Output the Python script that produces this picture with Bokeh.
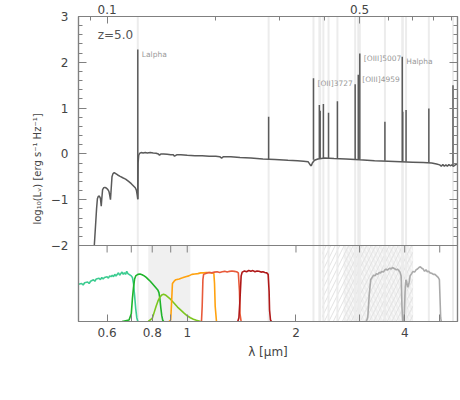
from bokeh.plotting import figure
from bokeh.models import (Range1d, LinearAxis, FixedTicker, LogScale, BoxAnnotation,
                          Span, Label, Title)
from bokeh.embed import file_html
from bokeh.resources import INLINE
from bokeh.core.properties import value

FONT = "DejaVu Sans"
redshift = 5.0
x_lo, x_hi = 0.5, 5.6
y_top, y_mid = 3.0, -2.0          # log L range of the spectrum panel
y_bot = -3.659                    # extends the frame down for the filter panel
filt_top = 4.013                  # filter-panel range so that 0..1 fills the lower strip

# ---------------- spectrum (observed micron, log10 L_nu) ----------------
cont_wave = [0.553, 0.557, 0.561, 0.564, 0.567, 0.571, 0.575, 0.578, 0.580,
             0.583, 0.587, 0.592, 0.598, 0.603, 0.607, 0.610, 0.613, 0.616, 0.619,
             0.623, 0.628, 0.634, 0.642, 0.652, 0.663, 0.675, 0.688, 0.700, 0.710,
             0.718, 0.723, 0.727, 0.7295, 0.731, 0.734, 0.738, 0.745, 0.755, 0.765,
             0.775, 0.790, 0.805, 0.820, 0.832, 0.838, 0.845, 0.860, 0.880, 0.900,
             0.915, 0.922, 0.935, 0.960, 1.000, 1.05, 1.10, 1.15, 1.20, 1.23,
             1.245, 1.26, 1.32, 1.40, 1.50, 1.62, 1.75, 1.90, 2.02, 2.10,
             2.16, 2.19, 2.205, 2.22, 2.25, 2.30, 2.40, 2.55, 2.75, 3.00,
             3.30, 3.60, 3.90, 4.20, 4.50, 4.75, 4.90, 5.00, 5.05, 5.10,
             5.15, 5.20, 5.25, 5.30, 5.35, 5.40, 5.45, 5.50, 5.55, 5.60]
cont_logL = [-2.0, -1.6, -1.2, -0.98, -0.93, -0.92, -0.97, -1.14, -0.98,
             -0.78, -0.74, -0.73, -0.75, -0.78, -0.82, -0.90, -1.00, -0.75, -0.50,
             -0.43, -0.41, -0.43, -0.46, -0.49, -0.52, -0.55, -0.60, -0.65, -0.70,
             -0.74, -0.79, -0.90, -0.99, -0.20, -0.03, 0.01, 0.03, 0.02, 0.03,
             0.02, 0.03, 0.02, 0.015, 0.0, -0.03, 0.0, 0.0, -0.01, -0.02,
             -0.02, -0.05, -0.02, -0.02, -0.03, -0.04, -0.04, -0.05, -0.05, -0.06,
             -0.09, -0.06, -0.06, -0.08, -0.09, -0.11, -0.12, -0.14, -0.15, -0.16,
             -0.17, -0.24, -0.26, -0.20, -0.14, -0.11, -0.09, -0.10, -0.11, -0.13,
             -0.15, -0.16, -0.17, -0.18, -0.19, -0.20, -0.22, -0.24, -0.27, -0.23,
             -0.27, -0.24, -0.27, -0.23, -0.26, -0.24, -0.27, -0.25, -0.22, -0.24]

# emission lines (rest micron), peak and base in log10 L_nu
line_rest = [0.1216, 0.2800, 0.3727, 0.3869, 0.3889, 0.3970, 0.4102, 0.4341, 0.4861,
             0.4959, 0.5007, 0.5876, 0.6563, 0.6584, 0.6724, 0.7775, 0.9069]
line_peak = [2.28, 0.81, 1.65, 1.07, 0.94, 1.09, 0.90, 1.15, 1.52,
             1.73, 2.19, 0.70, 2.12, 0.92, 0.96, 0.99, 1.50]
line_base = [-0.99, -0.12, -0.13, -0.10, -0.10, -0.10, -0.10, -0.10, -0.12,
             -0.13, -0.13, -0.15, -0.17, -0.17, -0.17, -0.19, -0.24]

label_names = ["Lalpha", "[OII]3727", "[OIII]4959", "[OIII]5007", "Halpha"]
label_rest = [0.1216, 0.3727, 0.4959, 0.5007, 0.6563]
label_peak = [2.28, 1.65, 1.73, 2.19, 2.12]

# ---------------- filter curves (observed micron, transmission) ----------------
teal_w = [0.44, 0.46, 0.48, 0.49, 0.50, 0.51, 0.515, 0.52, 0.53, 0.535, 0.54, 0.55,
          0.555, 0.56, 0.57, 0.575, 0.58, 0.585, 0.59, 0.60, 0.605, 0.61, 0.615, 0.62,
          0.625, 0.63, 0.635, 0.64, 0.645, 0.65, 0.655, 0.66, 0.665, 0.67, 0.675, 0.68,
          0.685, 0.69, 0.695, 0.70, 0.705, 0.71, 0.715, 0.72, 0.725, 0.73]
teal_t = [0.43, 0.45, 0.47, 0.46, 0.49, 0.50, 0.48, 0.51, 0.52, 0.50, 0.53, 0.55,
          0.53, 0.56, 0.57, 0.55, 0.58, 0.56, 0.58, 0.59, 0.57, 0.60, 0.59, 0.61,
          0.59, 0.62, 0.60, 0.62, 0.64, 0.61, 0.63, 0.65, 0.62, 0.64, 0.62, 0.66,
          0.63, 0.62, 0.61, 0.60, 0.58, 0.50, 0.34, 0.17, 0.05, 0.0]

green_w = [0.66, 0.69, 0.70, 0.705, 0.71, 0.715, 0.72, 0.73, 0.74, 0.75, 0.76, 0.77,
           0.78, 0.79, 0.80, 0.81, 0.82, 0.83, 0.835, 0.84, 0.845, 0.85, 0.855, 0.86]
green_t = [0.0, 0.02, 0.10, 0.30, 0.45, 0.56, 0.60, 0.62, 0.625, 0.615, 0.60, 0.58,
           0.555, 0.53, 0.50, 0.47, 0.44, 0.41, 0.38, 0.30, 0.18, 0.08, 0.02, 0.0]

lime_w = [0.78, 0.80, 0.81, 0.82, 0.83, 0.84, 0.85, 0.86, 0.87, 0.88, 0.89, 0.90,
          0.92, 0.94, 0.96, 0.98, 1.00, 1.02, 1.04, 1.06, 1.09]
lime_t = [0.0, 0.04, 0.12, 0.20, 0.27, 0.32, 0.35, 0.36, 0.35, 0.33, 0.31, 0.29,
          0.24, 0.19, 0.15, 0.11, 0.075, 0.05, 0.03, 0.015, 0.0]

orange_w = [0.89, 0.90, 0.905, 0.91, 0.92, 0.93, 0.95, 0.97, 0.99, 1.01, 1.03, 1.05,
            1.07, 1.09, 1.11, 1.13, 1.15, 1.17, 1.185, 1.19, 1.195, 1.205]
orange_t = [0.0, 0.02, 0.25, 0.50, 0.53, 0.55, 0.56, 0.575, 0.59, 0.60, 0.62, 0.625,
            0.63, 0.64, 0.64, 0.645, 0.645, 0.64, 0.63, 0.50, 0.20, 0.0]

red_w = [1.095, 1.10, 1.105, 1.11, 1.13, 1.15, 1.17, 1.19, 1.21, 1.23, 1.25, 1.27,
         1.29, 1.31, 1.33, 1.35, 1.37, 1.385, 1.395, 1.40, 1.41]
red_t = [0.0, 0.20, 0.55, 0.62, 0.635, 0.645, 0.64, 0.65, 0.655, 0.645, 0.655, 0.66,
         0.65, 0.66, 0.665, 0.66, 0.655, 0.64, 0.40, 0.10, 0.0]

dred_w = [1.38, 1.39, 1.40, 1.41, 1.42, 1.44, 1.46, 1.48, 1.50, 1.52, 1.54, 1.56,
          1.58, 1.60, 1.62, 1.64, 1.66, 1.675, 1.685, 1.69, 1.70, 1.71]
dred_t = [0.0, 0.05, 0.30, 0.60, 0.65, 0.665, 0.655, 0.67, 0.66, 0.67, 0.655, 0.665,
          0.66, 0.65, 0.655, 0.645, 0.64, 0.62, 0.40, 0.15, 0.02, 0.0]

ch1_w = [3.13, 3.16, 3.19, 3.22, 3.25, 3.28, 3.31, 3.34, 3.37, 3.40, 3.43, 3.46,
         3.49, 3.52, 3.55, 3.58, 3.61, 3.64, 3.67, 3.70, 3.73, 3.76, 3.79, 3.82,
         3.85, 3.88, 3.91, 3.93, 3.95]
ch1_t = [0.0, 0.05, 0.35, 0.55, 0.58, 0.61, 0.60, 0.63, 0.62, 0.645, 0.64, 0.66,
         0.65, 0.675, 0.69, 0.675, 0.69, 0.70, 0.69, 0.71, 0.70, 0.69, 0.68, 0.69,
         0.67, 0.65, 0.60, 0.20, 0.0]

ch2_w = [3.96, 3.99, 4.01, 4.03, 4.05, 4.08, 4.11, 4.14, 4.18, 4.22, 4.26, 4.30,
         4.34, 4.38, 4.42, 4.46, 4.50, 4.54, 4.58, 4.62, 4.66, 4.70, 4.75, 4.80,
         4.85, 4.90, 4.95, 4.99, 5.01, 5.03, 5.05]
ch2_t = [0.0, 0.10, 0.40, 0.55, 0.52, 0.45, 0.50, 0.60, 0.63, 0.66, 0.65, 0.68,
         0.69, 0.71, 0.72, 0.70, 0.69, 0.66, 0.68, 0.655, 0.66, 0.64, 0.635, 0.62,
         0.62, 0.60, 0.58, 0.55, 0.30, 0.05, 0.0]

filters = [(teal_w, teal_t, "#3dcc91"), (green_w, green_t, "#1fb42a"),
           (lime_w, lime_t, "#7cc61e"), (orange_w, orange_t, "#ffa20f"),
           (red_w, red_t, "#e85a3a"), (dred_w, dred_t, "#b01818"),
           (ch1_w, ch1_t, "#aaaaaa"), (ch2_w, ch2_t, "#aaaaaa")]

# shaded / hatched regions in the filter panel (observed micron)
shade_band = (0.78, 1.02)
hatch_band_a = (2.36, 4.22)
hatch_band_b = (2.71, 4.22)

obs_ticks = [0.6, 0.7, 0.8, 0.9, 1, 2, 3, 4, 5]
obs_labels = {0.6: "0.6", 0.7: "", 0.8: "0.8", 0.9: "", 1: "1", 2: "2", 3: "", 4: "4", 5: ""}
rest_major = [0.1, 0.5]
rest_minor = [0.09, 0.2, 0.3, 0.4, 0.6, 0.7, 0.8, 0.9]
y_major = [-2, -1, 0, 1, 2, 3]
y_minor = [k / 5 for k in range(-10, 16) if k % 5]
y_labels = {-2: "\u22122", -1: "\u22121", 0: "0", 1: "1", 2: "2", 3: "3"}
ylabel_text = "log\u2081\u2080(L\u1d65) [erg s\u207b\u00b9 Hz\u207b\u00b9]"

AX = "#808080"
TXT = "#444444"

obs_line = [w * (1 + redshift) for w in line_rest]
obs_label = [w * (1 + redshift) for w in label_rest]


def style_axis(ax, tin=7, mtin=0):
    ax.axis_line_color = AX
    ax.axis_line_width = 1.2
    ax.major_tick_line_color = AX
    ax.minor_tick_line_color = AX
    ax.major_tick_in = tin
    ax.major_tick_out = 0
    ax.minor_tick_in = mtin
    ax.minor_tick_out = 0
    ax.major_label_text_font = FONT
    ax.major_label_text_font_size = "12px"
    ax.major_label_text_color = TXT
    ax.axis_label_text_font = FONT
    ax.axis_label_text_font_size = "12px"
    ax.axis_label_text_font_style = "normal"
    ax.axis_label_text_color = TXT


p = figure(frame_width=379, frame_height=305, x_axis_type="log",
           x_range=Range1d(x_lo, x_hi), y_range=Range1d(y_bot, y_top),
           x_axis_location=None, y_axis_location=None,
           output_backend="svg", toolbar_location=None,
           min_border_left=78, min_border_right=2, min_border_top=16, min_border_bottom=0)
p.grid.visible = False
p.outline_line_color = AX
p.outline_line_width = 1.2
p.background_fill_color = "white"
p.border_fill_color = "white"

p.extra_x_ranges = {"rest": Range1d(x_lo / (1 + redshift), x_hi / (1 + redshift))}
p.extra_x_scales = {"rest": LogScale()}
p.extra_y_ranges = {"filt": Range1d(0, filt_top)}

# axes
yl = LinearAxis(ticker=FixedTicker(ticks=y_major, minor_ticks=y_minor))
style_axis(yl, tin=8, mtin=4)
yl.major_label_standoff = 10
yl.major_label_overrides = y_labels
p.add_layout(yl, "left")

yr = LinearAxis(ticker=FixedTicker(ticks=y_major, minor_ticks=y_minor))
style_axis(yr, tin=8, mtin=4)
yr.major_label_overrides = {k: "" for k in y_major}
yr.major_label_standoff = 0
p.add_layout(yr, "right")

xt = LinearAxis(x_range_name="rest",
                ticker=FixedTicker(ticks=rest_major, minor_ticks=rest_minor))
style_axis(xt, tin=7, mtin=4)
xt.major_label_standoff = 3
xt.major_label_overrides = {0.1: "0.1", 0.5: "0.5"}
p.add_layout(xt, "above")

xb = LinearAxis(ticker=FixedTicker(ticks=obs_ticks), axis_label="\u03bb [\u03bcm]")
style_axis(xb, tin=7)
xb.major_label_overrides = obs_labels
xb.major_label_standoff = 6
xb.axis_label_standoff = 5
p.add_layout(xb, "below")

# y-axis title, shifted up so it is centred on the spectrum panel
ytitle = Title(text=ylabel_text, align="center", offset=44, standoff=10,
               text_font=FONT, text_font_size="10px", text_font_style="normal",
               text_color=TXT)
p.add_layout(ytitle, "left")

# filter-panel background regions
p.add_layout(BoxAnnotation(left=shade_band[0], right=shade_band[1], top=y_mid,
                           fill_color="#f0f0f0", fill_alpha=1, line_alpha=0, level="underlay"))
p.add_layout(BoxAnnotation(left=hatch_band_b[0], right=hatch_band_b[1], top=y_mid,
                           fill_color="#f0f0f0", fill_alpha=1, line_alpha=0,
                           hatch_pattern="\\", hatch_color="#fafafa", hatch_scale=9,
                           hatch_weight=1.2, level="underlay"))
p.add_layout(BoxAnnotation(left=hatch_band_a[0], right=hatch_band_a[1], top=y_mid,
                           fill_alpha=0, line_alpha=0, hatch_pattern="/",
                           hatch_color="#e2e2e2", hatch_scale=9, hatch_weight=1.0,
                           level="underlay"))

# line markers through both panels
for w in obs_line:
    p.add_layout(Span(location=w, dimension="height", line_color="#ececec",
                      line_width=2, level="underlay"))

# panel divider and its inward ticks
p.add_layout(Span(location=y_mid, dimension="width", line_color=AX, line_width=1.2))
p.ray(x=obs_ticks, y=[y_mid] * len(obs_ticks), length=7, length_units="screen",
      angle=-90, angle_units="deg", line_color=AX, line_width=1)

# spectrum
p.line(cont_wave, cont_logL, line_color="#5a5a5a", line_width=1.5)
p.segment(x0=obs_line, y0=line_base, x1=obs_line, y1=line_peak,
          line_color="#5a5a5a", line_width=1.5)
p.text(x=obs_label, y=label_peak, text=label_names, x_offset=4, y_offset=5,
       text_font=value(FONT), text_font_size=value("7.5px"), text_color="#999999",
       text_baseline="middle", text_align="left")

p.add_layout(Label(x=0.565, y=2.59, text="z=%.1f" % redshift, text_font=FONT,
                   text_font_size="12px", text_color="#555555",
                   text_baseline="middle", text_align="left"))

# filter curves
for fw, ft, col in filters:
    p.line(fw, ft, y_range_name="filt", line_color=col, line_width=1.6)

open("out.html", "w").write(file_html(p, INLINE))
